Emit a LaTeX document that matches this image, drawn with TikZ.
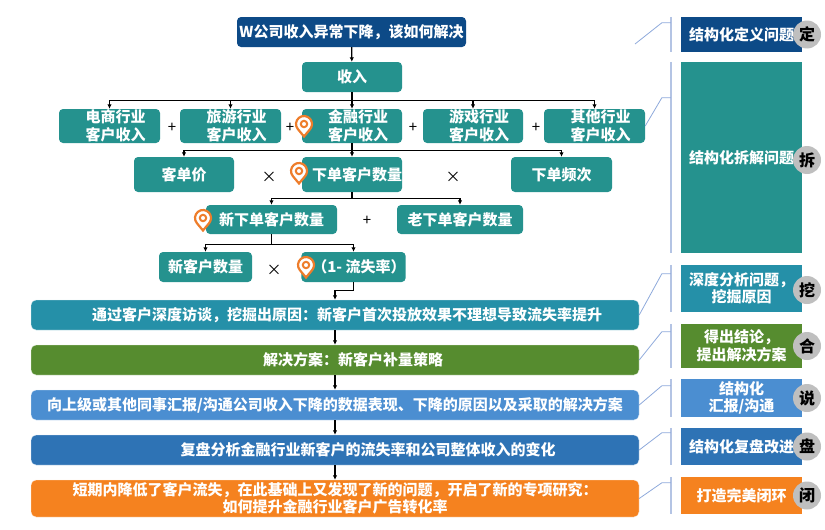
\documentclass[tikz,border=0pt]{standalone}
\usepackage{fontspec}
\setmainfont{Noto Sans CJK SC}
\usetikzlibrary{arrows.meta}
\definecolor{cTitle}{HTML}{0D4A87}
\definecolor{cTree}{HTML}{25928E}
\definecolor{cDig}{HTML}{2590A8}
\definecolor{cHe}{HTML}{568C2F}
\definecolor{cShuo}{HTML}{4B8ED1}
\definecolor{cPan}{HTML}{2E73B5}
\definecolor{cBi}{HTML}{F5821F}
\definecolor{cPin}{HTML}{EE7D2B}
\definecolor{cBracket}{HTML}{B4C4E4}
\definecolor{cConn}{HTML}{8EA9DB}
\definecolor{cBadge}{HTML}{BFBFBF}
\tikzset{mappin/.pic={
  \draw[cPin, line width=2.2pt, fill=white] (0,12.5) -- (140:8) arc[start angle=140, end angle=400, radius=8] -- cycle;
  \draw[cPin, line width=2pt] (0,0) circle[radius=3.2];
}}
\begin{document}
\begin{tikzpicture}[x=1pt,y=-1pt,
  every node/.style={font=\bfseries\fontsize{15}{17.5}\selectfont, text=white, inner sep=0pt},
  tree/.style={fill=cTree, rounded corners=4pt, minimum width=100, minimum height=34, align=center},
  bar/.style={fill=#1, draw=white!85!#1, rounded corners=5pt, minimum width=608, minimum height=30, align=center},
  side/.style={fill=#1, minimum width=121, align=center},
  badge/.style={circle, fill=cBadge, text=black, minimum size=28, font=\bfseries\fontsize{16}{16}\selectfont},
  op/.style={text=black, font=\fontsize{15}{15}\selectfont},
  link/.style={draw=black, line width=1.2pt, -{Latex[length=4.5pt,width=4.5pt]}},
  conn/.style={draw=cConn, line width=0.8pt},
  bracket/.style={draw=cBracket, line width=2pt}]
\useasboundingbox (0,0) rectangle (825,530);

% the question and the tree
\node[fill=cTitle, rounded corners=4pt, minimum width=229, minimum height=30] (title) at (351.5,32) {W公司收入异常下降，该如何解决};
\node[tree, minimum height=30] (shouru) at (352,77) {收入};
\node[tree, minimum width=101] (dianshang) at (109.5,126) {\hspace*{12pt}电商行业\\\hspace*{12pt}客户收入};
\node[tree, minimum width=101] (lvyou) at (230.5,126) {\hspace*{12pt}旅游行业\\\hspace*{12pt}客户收入};
\node[tree] (jinrong) at (352,126) {\hspace*{12pt}金融行业\\\hspace*{12pt}客户收入};
\node[tree] (youxi) at (473,126) {\hspace*{12pt}游戏行业\\\hspace*{12pt}客户收入};
\node[tree, minimum width=101] (qita) at (594.5,126) {\hspace*{12pt}其他行业\\\hspace*{12pt}客户收入};
\node[tree, minimum height=35] (kedanjia) at (184,174.5) {客单价};
\node[tree, minimum height=35] (xiadan) at (352,174.5) {\hspace*{10pt}下单客户数量};
\node[tree, minimum height=35, minimum width=101] (pinci) at (561.5,174.5) {下单频次};
\node[tree, minimum height=29, minimum width=131] (xinxiadan) at (271.5,219.5) {新下单客户数量};
\node[tree, minimum height=29, minimum width=126] (laoxiadan) at (460,219.5) {老下单客户数量};
\node[tree, minimum height=30, minimum width=93] (xinkehu) at (205.5,267) {新客户数量};
\node[tree, minimum height=30, minimum width=99] (liushi) at (353.5,267) {\hspace*{11pt}（1- 流失率）};

\node[op] (plusA) at (172,128) {+};
\node[op] (plusB) at (290,128) {+};
\node[op] (plusC) at (413,128) {+};
\node[op] (plusD) at (536,128) {+};
\node[op] (timesA) at (269,177) {×};
\node[op] (timesB) at (453,177) {×};
\node[op] (plusE) at (367,221) {+};
\node[op] (timesC) at (274,270) {×};

\pic at (304,124) {mappin};
\pic at (299,171) {mappin};
\pic at (203,218) {mappin};
\pic at (306,265) {mappin};

\draw[link] (title) -- (shouru);
\foreach \c in {dianshang,lvyou,jinrong,youxi,qita}
  \draw[link] (shouru.south) -- ++(0,8) -| (\c.north);
\foreach \c in {kedanjia,xiadan,pinci}
  \draw[link] (jinrong.south) -- ++(0,7) -| (\c.north);
\foreach \c in {xinxiadan,laoxiadan}
  \draw[link] (xiadan.south) -- ++(0,6) -| (\c.north);
\foreach \c in {xinkehu,liushi}
  \draw[link] (xinxiadan.south) -- ++(0,10) -| (\c.north);

% the steps
\node[bar=cDig] (bar1) at (335,315) {\hspace*{24pt}通过客户深度访谈，挖掘出原因：新客户首次投放效果不理想导致流失率提升};
\node[bar=cHe] (bar2) at (335,360) {\hspace*{36pt}解决方案：新客户补量策略};
\node[bar=cShuo] (bar3) at (335,405) {向上级或其他同事汇报/沟通公司收入下降的数据表现、下降的原因以及采取的解决方案};
\node[bar=cPan] (bar4) at (335,450) {\hspace*{66pt}复盘分析金融行业新客户的流失率和公司整体收入的变化};
\node[bar=cBi, minimum height=37] (bar5) at (335,498.5) {短期内降低了客户流失，在此基础上又发现了新的问题，开启了新的专项研究：\\如何提升金融行业客户广告转化率};

\draw[link] (liushi.south) -- ++(0,8) -| (bar1.north);
\draw[link] (bar1) -- (bar2);
\draw[link] (bar2) -- (bar3);
\draw[link] (bar3) -- (bar4);
\draw[link] (bar4) -- (bar5);

% the side column
\node[side=cTitle, minimum height=35] (ding) at (741.5,34.5) {结构化定义问题};
\node[side=cTree, minimum height=191] (chai) at (741.5,157.5) {结构化拆解问题};
\node[side=cDig, minimum height=47] (wa) at (741.5,288.5) {深度分析问题，\\挖掘原因};
\node[side=cHe, minimum height=44] (he) at (741.5,346) {得出结论，\\提出解决方案};
\node[side=cShuo, minimum height=38] (shuo) at (741.5,398) {结构化\\汇报/沟通};
\node[side=cPan, minimum height=37] (pan) at (741.5,446.5) {结构化复盘改进};
\node[side=cBi, minimum height=37] (bi) at (741.5,495.5) {打造完美闭环};

\node[badge] (bding) at (807,34.5) {定};
\node[badge] (bchai) at (807,160) {拆};
\node[badge] (bwa) at (807,290) {挖};
\node[badge] (bhe) at (807,346) {合};
\node[badge] (bshuo) at (807,398) {说};
\node[badge] (bpan) at (807,446.5) {盘};
\node[badge] (bbi) at (807,495.5) {闭};

\foreach \b in {ding,chai,wa,he,shuo,pan,bi}
  \draw[bracket] ([xshift=-10pt]\b.north west) -- ([xshift=-10pt]\b.south west);

\coordinate (dingfrom) at (635,44);
\draw[conn] (dingfrom) -- ([xshift=-19pt,yshift=-6pt]ding.north west) -- ([xshift=-10pt,yshift=-6pt]ding.north west);
\foreach \a/\b/\d in {qita/chai/36,bar1/wa/9,bar2/he/8,bar3/shuo/7,bar4/pan/5,bar5/bi/6}
  \draw[conn] (\a.east) -- ([xshift=-19pt,yshift=-\d pt]\b.north west) -- ([xshift=-10pt,yshift=-\d pt]\b.north west);
\end{tikzpicture}
\end{document}
